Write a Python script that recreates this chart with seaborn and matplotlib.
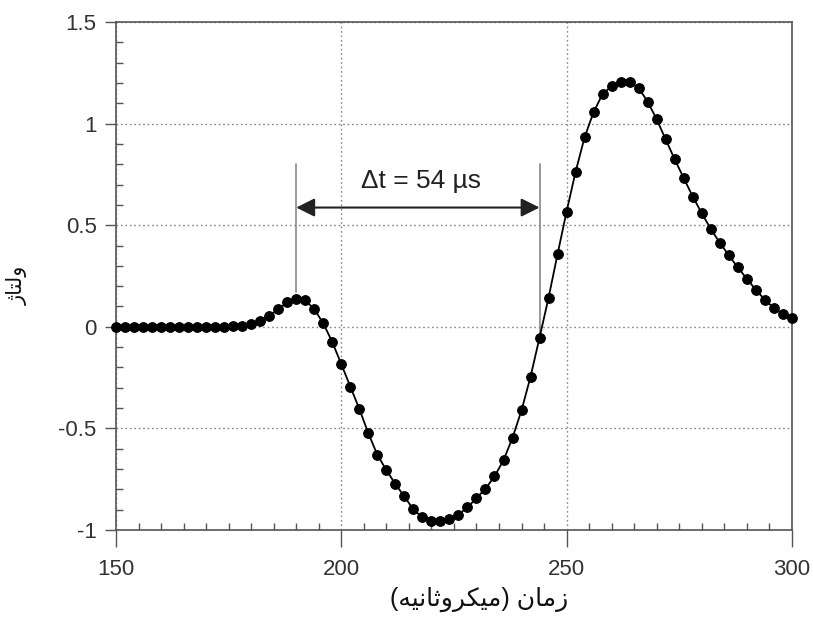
import matplotlib
matplotlib.use("Agg")
import matplotlib.pyplot as plt
from matplotlib.ticker import MultipleLocator, FuncFormatter
import seaborn as sns
import pandas as pd

# زمان نمونه‌ها (میکروثانیه)
time_us = [150, 152, 154, 156, 158, 160, 162, 164, 166, 168, 170, 172, 174, 176, 178,
           180, 182, 184, 186, 188, 190, 192, 194, 196, 198, 200, 202, 204, 206, 208,
           210, 212, 214, 216, 218, 220, 222, 224, 226, 228, 230, 232, 234, 236, 238,
           240, 242, 244, 246, 248, 250, 252, 254, 256, 258, 260, 262, 264, 266, 268,
           270, 272, 274, 276, 278, 280, 282, 284, 286, 288, 290, 292, 294, 296, 298, 300]

# ولتاژ خوانده شده از تصویر
voltage = [0.0, 0.0, 0.0, 0.0, 0.0, 0.0, 0.0, 0.0, 0.0, 0.0, 0.0, 0.0, 0.0, 0.002, 0.004,
           0.012, 0.03, 0.054, 0.087, 0.12, 0.138, 0.13, 0.087, 0.017, -0.075, -0.184, -0.294, -0.404, -0.524, -0.63,
           -0.705, -0.774, -0.835, -0.899, -0.938, -0.955, -0.958, -0.948, -0.924, -0.889, -0.843, -0.797, -0.736, -0.657, -0.546,
           -0.411, -0.246, -0.053, 0.143, 0.358, 0.567, 0.763, 0.933, 1.057, 1.146, 1.185, 1.205, 1.207, 1.175, 1.108,
           1.021, 0.922, 0.824, 0.732, 0.641, 0.559, 0.482, 0.414, 0.352, 0.292, 0.237, 0.182, 0.133, 0.092, 0.063, 0.044]

# نشانگر فاصله زمانی
t_start, t_end = 190, 244
delta_label = "\u0394t = 54 \u00b5s"

# برچسب‌ها (matplotlib شکل‌دهی عربی انجام نمی‌دهد، پس فرم‌های نمایشی به ترتیب دیداری)
# "زمان (میکروثانیه)"
xlabel_text = "(\uFEEA\uFEF4\uFEE7\uFE8E\uFE9B\uFEED\uFEAE\uFEDC\uFEF4\uFEE3) \uFEE5\uFE8E\uFEE3\uFEAF"
# "ولتاژ"
ylabel_text = "\u0698\uFE8E\uFE98\uFEDF\uFEED"

df = pd.DataFrame({"time": time_us, "voltage": voltage})

sns.set_theme(style="white")
plt.rcParams["font.family"] = ["Liberation Sans", "DejaVu Sans"]
plt.rcParams["axes.unicode_minus"] = False

fig = plt.figure(figsize=(8.13, 6.17), dpi=100)
ax = fig.add_axes([0.1427, 0.141, 0.8313, 0.8233])

sns.lineplot(data=df, x="time", y="voltage", ax=ax, color="black", linewidth=1.3,
             marker="o", markersize=7, markeredgecolor="black", markerfacecolor="black",
             clip_on=False, zorder=5)

ax.set_xlim(150, 300)
ax.set_ylim(-1, 1.5)

ax.xaxis.set_major_locator(MultipleLocator(50))
ax.xaxis.set_minor_locator(MultipleLocator(5))
ax.yaxis.set_major_locator(MultipleLocator(0.5))
ax.yaxis.set_minor_locator(MultipleLocator(0.1))
ax.yaxis.set_major_formatter(FuncFormatter(lambda v, p: f"{v:g}"))

ax.tick_params(which="both", bottom=True, left=True, top=False, right=False)
ax.tick_params(axis="x", which="major", direction="out", length=12, width=1, color="#555555",
               labelsize=16, labelcolor="#333333", pad=9)
ax.tick_params(axis="y", which="major", direction="out", length=8, width=1, color="#555555",
               labelsize=16, labelcolor="#333333", pad=6)
ax.tick_params(which="minor", direction="in", length=5, width=1, color="#555555")

for side in ["left", "bottom", "top", "right"]:
    ax.spines[side].set_color("#555555")
    ax.spines[side].set_linewidth(1.2)

ax.grid(True, which="major", linestyle=(0, (1.2, 2)), color="#888888", linewidth=1)

# خطوط عمودی و پیکان Δt
ax.plot([t_start, t_start], [0.17, 0.80], color="#888888", linewidth=1.2)
ax.plot([t_end, t_end], [-0.05, 0.80], color="#888888", linewidth=1.2)
ax.annotate("", xy=(t_start, 0.587), xytext=(t_end, 0.587),
            arrowprops=dict(arrowstyle="<|-|>", color="#222222", lw=1.5,
                            mutation_scale=28, shrinkA=0, shrinkB=0))
ax.text(217.6, 0.717, delta_label, ha="center", va="center", fontsize=19, color="#222222")

ax.set_xlabel(xlabel_text, fontsize=18, color="#111111")
ax.set_ylabel(ylabel_text, fontsize=15, color="#111111")
ax.xaxis.set_label_coords(0.537, -0.112)
ax.yaxis.set_label_coords(-0.13, 0.482)

fig.savefig("out.png", dpi=100)
